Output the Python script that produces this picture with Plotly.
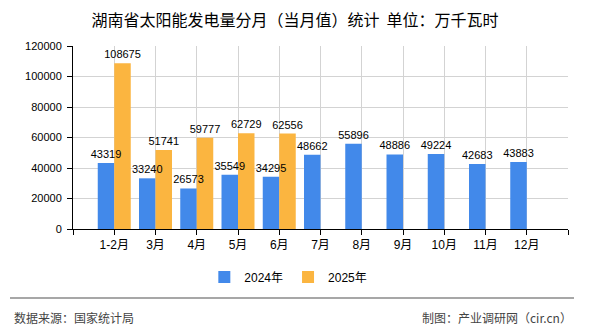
import plotly.graph_objects as go

categories = ["1-2月", "3月", "4月", "5月", "6月", "7月", "8月", "9月", "10月", "11月", "12月"]
values_2024 = [43319, 33240, 26573, 35549, 34295, 48662, 55896, 48886, 49224, 42683, 43883]
values_2025 = [108675, 51741, 59777, 62729, 62556, None, None, None, None, None, None]
series_names = ["2024年", "2025年"]
y_ticks = [0, 20000, 40000, 60000, 80000, 100000, 120000]

title_text = "湖南省太阳能发电量分月（当月值）统计  单位：万千瓦时"
source_text = "数据来源：国家统计局"
credit_text = "制图：产业调研网（cir.cn）"

BLUE = "#4289EA"
ORANGE = "#FBB540"
FONT = "Liberation Sans, Noto Sans CJK SC, sans-serif"
CJK = "Noto Sans CJK SC, sans-serif"

xpos = list(range(len(categories)))
series = [(series_names[0], values_2024, BLUE), (series_names[1], values_2025, ORANGE)]

fig = go.Figure()
# filled bars
for name, vals, col in series:
    fig.add_trace(go.Bar(
        x=xpos, y=vals, name=name, offsetgroup=name,
        marker=dict(color=col, line=dict(width=0)),
        hoverinfo="x+y",
    ))
# transparent bars on top carrying the value labels (so labels sit above all bars)
for name, vals, col in series:
    fig.add_trace(go.Bar(
        x=xpos, y=vals, name=name, offsetgroup=name, showlegend=False,
        marker=dict(color="rgba(0,0,0,0)", line=dict(width=0)),
        text=[("" if v is None else str(v)) for v in vals],
        textposition="outside", constraintext="none", cliponaxis=False,
        textfont=dict(family=FONT, size=11, color="#000000"),
        hoverinfo="skip",
    ))

tickvals = [-1] + xpos + [len(categories)]
ticktext = [""] + categories + [""]

fig.update_layout(
    width=590, height=330,
    margin=dict(l=73, r=22, t=46, b=101),
    paper_bgcolor="white", plot_bgcolor="white",
    barmode="group", bargap=0.2, bargroupgap=0,
    font=dict(family=FONT, size=11, color="#000000"),
    title=dict(text=title_text, x=0.5, xanchor="center", xref="container",
               y=1 - 20.5 / 330, yanchor="middle", yref="container",
               font=dict(family=CJK, size=16, color="#000000")),
    xaxis=dict(range=[-1, len(categories)], tickmode="array", tickvals=tickvals, ticktext=ticktext,
               showgrid=True, gridcolor="#D3D3D3", gridwidth=1,
               showline=True, linecolor="#000000", linewidth=1,
               ticks="outside", ticklen=5, tickcolor="#000000",
               tickfont=dict(family=FONT, size=12, color="#000000"), zeroline=False, fixedrange=True),
    yaxis=dict(range=[0, 120000], tickmode="array", tickvals=y_ticks, ticktext=[str(t) for t in y_ticks],
               showgrid=True, gridcolor="#D3D3D3", gridwidth=1,
               showline=True, linecolor="#000000", linewidth=1,
               ticks="outside", ticklen=5, tickcolor="#000000", ticklabelstandoff=3,
               tickfont=dict(family=FONT, size=11, color="#000000"), zeroline=False, fixedrange=True),
    legend=dict(orientation="h", x=0.435, xanchor="center", y=(229 - 277) / 183, yanchor="middle",
                font=dict(family=FONT, size=12, color="#000000"), itemwidth=30,
                bgcolor="rgba(0,0,0,0)", traceorder="normal"),
    showlegend=True,
)

fig.add_shape(type="line", xref="paper", yref="paper",
              x0=(10 - 73) / 495, x1=(574 - 73) / 495,
              y0=(229 - 298) / 183, y1=(229 - 298) / 183,
              line=dict(color="#8A8A8A", width=1.5))
fig.add_annotation(text=source_text, xref="paper", yref="paper",
                   x=(12 - 73) / 495, xanchor="left", y=(229 - 317) / 183, yanchor="middle",
                   showarrow=False, font=dict(family=CJK, size=12, color="#444444"))
fig.add_annotation(text=credit_text, xref="paper", yref="paper",
                   x=(574 - 73) / 495, xanchor="right", y=(229 - 317) / 183, yanchor="middle",
                   showarrow=False, font=dict(family=CJK, size=12, color="#444444"))

fig.write_html("out.html")
